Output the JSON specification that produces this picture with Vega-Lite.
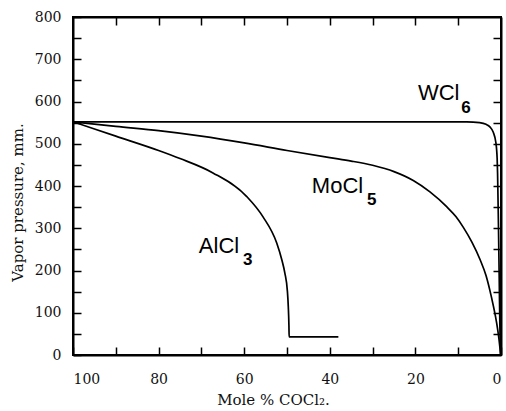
{
  "$schema": "https://vega.github.io/schema/vega-lite/v6.json",
  "width": 428,
  "height": 338,
  "autosize": {"type": "none"},
  "padding": {"left": 73, "top": 17, "right": 5, "bottom": 56},
  "background": "white",
  "config": {
    "view": {"stroke": "black", "strokeWidth": 2},
    "axis": {
      "grid": false,
      "domainColor": "black",
      "domainWidth": 2,
      "tickColor": "black",
      "tickWidth": 1.5,
      "tickSize": -8,
      "labelFont": "DejaVu Serif",
      "labelFontSize": 14,
      "labelColor": "#111",
      "titleFont": "DejaVu Serif",
      "titleFontSize": 15,
      "titleFontWeight": "normal",
      "titleColor": "#111"
    }
  },
  "datasets": {
    "curves": [
      {"series": "WCl6", "mole": 100, "p": 552},
      {"series": "WCl6", "mole": 80, "p": 552},
      {"series": "WCl6", "mole": 60, "p": 552},
      {"series": "WCl6", "mole": 40, "p": 552},
      {"series": "WCl6", "mole": 20, "p": 552},
      {"series": "WCl6", "mole": 8, "p": 552},
      {"series": "WCl6", "mole": 5, "p": 550},
      {"series": "WCl6", "mole": 3.5, "p": 546},
      {"series": "WCl6", "mole": 2.6, "p": 540},
      {"series": "WCl6", "mole": 1.8, "p": 527},
      {"series": "WCl6", "mole": 1.2, "p": 503},
      {"series": "WCl6", "mole": 0.9, "p": 465},
      {"series": "WCl6", "mole": 0.8, "p": 430},
      {"series": "WCl6", "mole": 0.6, "p": 310},
      {"series": "WCl6", "mole": 0.4, "p": 170},
      {"series": "WCl6", "mole": 0.25, "p": 60},
      {"series": "WCl6", "mole": 0.1, "p": 0},
      {"series": "MoCl5", "mole": 100, "p": 552},
      {"series": "MoCl5", "mole": 90, "p": 541},
      {"series": "MoCl5", "mole": 80, "p": 531},
      {"series": "MoCl5", "mole": 70, "p": 518},
      {"series": "MoCl5", "mole": 60, "p": 502},
      {"series": "MoCl5", "mole": 50, "p": 484},
      {"series": "MoCl5", "mole": 40, "p": 467},
      {"series": "MoCl5", "mole": 35, "p": 459},
      {"series": "MoCl5", "mole": 30, "p": 449},
      {"series": "MoCl5", "mole": 25, "p": 434},
      {"series": "MoCl5", "mole": 20.5, "p": 413},
      {"series": "MoCl5", "mole": 16.6, "p": 386},
      {"series": "MoCl5", "mole": 12.7, "p": 351},
      {"series": "MoCl5", "mole": 10.5, "p": 327},
      {"series": "MoCl5", "mole": 8.8, "p": 302},
      {"series": "MoCl5", "mole": 6.8, "p": 267},
      {"series": "MoCl5", "mole": 4.9, "p": 226},
      {"series": "MoCl5", "mole": 3.5, "p": 188},
      {"series": "MoCl5", "mole": 2.6, "p": 153},
      {"series": "MoCl5", "mole": 1.8, "p": 117},
      {"series": "MoCl5", "mole": 1.0, "p": 75},
      {"series": "MoCl5", "mole": 0.5, "p": 40},
      {"series": "MoCl5", "mole": 0.07, "p": 0},
      {"series": "AlCl3", "mole": 100, "p": 552},
      {"series": "AlCl3", "mole": 90, "p": 518},
      {"series": "AlCl3", "mole": 80, "p": 484},
      {"series": "AlCl3", "mole": 75, "p": 465},
      {"series": "AlCl3", "mole": 67.3, "p": 431},
      {"series": "AlCl3", "mole": 59.4, "p": 375},
      {"series": "AlCl3", "mole": 55.6, "p": 327},
      {"series": "AlCl3", "mole": 52.4, "p": 265},
      {"series": "AlCl3", "mole": 51.2, "p": 225},
      {"series": "AlCl3", "mole": 50.5, "p": 194},
      {"series": "AlCl3", "mole": 49.9, "p": 150},
      {"series": "AlCl3", "mole": 49.7, "p": 115},
      {"series": "AlCl3", "mole": 49.55, "p": 70},
      {"series": "AlCl3", "mole": 49.5, "p": 43},
      {"series": "AlCl3", "mole": 45, "p": 43},
      {"series": "AlCl3", "mole": 38, "p": 43}
    ],
    "names": [
      {"text": "WCl", "mole": 19.4, "p": 603},
      {"text": "MoCl", "mole": 44.2, "p": 383},
      {"text": "AlCl", "mole": 70.6, "p": 241}
    ],
    "subs": [
      {"text": "6", "mole": 9.3, "p": 573},
      {"text": "5", "mole": 31.3, "p": 355},
      {"text": "3", "mole": 60.3, "p": 213}
    ]
  },
  "layer": [
    {
      "data": {"name": "curves"},
      "mark": {"type": "line", "interpolate": "monotone", "color": "black", "strokeWidth": 1.7},
      "encoding": {
        "x": {
          "field": "mole", "type": "quantitative",
          "scale": {"domain": [0, 100], "reverse": true, "nice": false},
          "axis": {
            "orient": "bottom",
            "values": [0, 10, 20, 30, 40, 50, 60, 70, 80, 90, 100],
            "labelExpr": "datum.value % 20 == 0 ? datum.label : ''",
            "labelPadding": 25,
            "title": "Mole % COCl₂.",
            "titleX": 200,
            "titleY": 49,
            "titleBaseline": "alphabetic"
          }
        },
        "y": {
          "field": "p", "type": "quantitative",
          "scale": {"domain": [0, 800], "nice": false},
          "axis": {
            "orient": "left",
            "values": [0, 50, 100, 150, 200, 250, 300, 350, 400, 450, 500, 550, 600, 650, 700, 750, 800],
            "labelExpr": "datum.value % 100 == 0 ? datum.label : ''",
            "labelPadding": 20,
            "title": "Vapor pressure, mm.",
            "titleX": -56,
            "titleY": 185,
            "titleAngle": -90,
            "titleAlign": "center",
            "titleBaseline": "middle"
          }
        },
        "detail": {"field": "series"}
      }
    },
    {
      "data": {"name": "curves"},
      "mark": {"type": "point", "opacity": 0},
      "encoding": {
        "x": {
          "field": "mole", "type": "quantitative",
          "axis": {"orient": "top", "values": [10, 20, 30, 40, 50, 60, 70, 80, 90], "labels": false, "title": null}
        },
        "y": {
          "field": "p", "type": "quantitative",
          "axis": {"orient": "right", "values": [50, 100, 150, 200, 250, 300, 350, 400, 450, 500, 550, 600, 650, 700, 750], "labels": false, "title": null}
        }
      }
    },
    {
      "data": {"name": "names"},
      "mark": {"type": "text", "font": "Liberation Sans", "fontSize": 22, "align": "left", "baseline": "alphabetic", "color": "black"},
      "encoding": {
        "x": {"field": "mole", "type": "quantitative", "axis": null},
        "y": {"field": "p", "type": "quantitative", "axis": null},
        "text": {"field": "text"}
      }
    },
    {
      "data": {"name": "subs"},
      "mark": {"type": "text", "font": "Liberation Sans", "fontSize": 17, "fontWeight": "bold", "align": "left", "baseline": "alphabetic", "color": "black"},
      "encoding": {
        "x": {"field": "mole", "type": "quantitative", "axis": null},
        "y": {"field": "p", "type": "quantitative", "axis": null},
        "text": {"field": "text"}
      }
    }
  ],
  "resolve": {"axis": {"x": "independent", "y": "independent"}}
}
